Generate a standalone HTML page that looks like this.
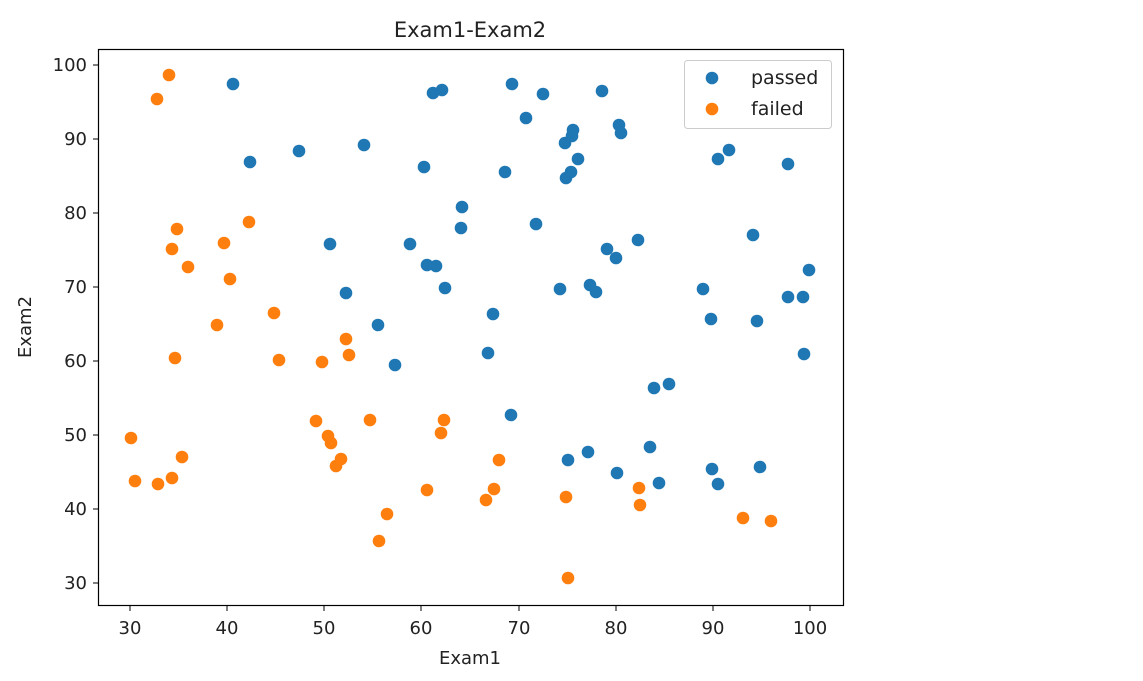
<!DOCTYPE html>
<html><head><style>body{margin:0;background:#fff}svg{display:block;font-family:"DejaVu Sans","Liberation Sans",sans-serif}</style></head>
<body>
<svg width="1143" height="681" viewBox="0 0 1143 681">
<rect width="1143" height="681" fill="#fff"/>
<text x="470" y="37" font-size="21" text-anchor="middle" fill="#222">Exam1-Exam2</text>
<g fill="#1f77b4" id="b"></g>
<g fill="#ff7f0e" id="o"></g>
<rect x="98.5" y="49.5" width="745" height="556" fill="none" stroke="#000" stroke-width="1.2"/>
<g stroke="#000" stroke-width="1">
<line x1="130" y1="606" x2="130" y2="611"/><line x1="227" y1="606" x2="227" y2="611"/><line x1="324" y1="606" x2="324" y2="611"/><line x1="421" y1="606" x2="421" y2="611"/><line x1="519" y1="606" x2="519" y2="611"/><line x1="616" y1="606" x2="616" y2="611"/><line x1="713" y1="606" x2="713" y2="611"/><line x1="810" y1="606" x2="810" y2="611"/>
<line x1="93" y1="65" x2="98" y2="65"/><line x1="93" y1="139" x2="98" y2="139"/><line x1="93" y1="213" x2="98" y2="213"/><line x1="93" y1="287" x2="98" y2="287"/><line x1="93" y1="361" x2="98" y2="361"/><line x1="93" y1="435" x2="98" y2="435"/><line x1="93" y1="509" x2="98" y2="509"/><line x1="93" y1="583" x2="98" y2="583"/>
</g>
<g font-size="18" fill="#222" text-anchor="middle">
<text x="130" y="634">30</text><text x="227" y="634">40</text><text x="324" y="634">50</text><text x="421" y="634">60</text><text x="519" y="634">70</text><text x="616" y="634">80</text><text x="713" y="634">90</text><text x="810" y="634">100</text>
<text x="470" y="664">Exam1</text>
</g>
<g font-size="18" fill="#222" text-anchor="end">
<text x="87" y="71">100</text><text x="87" y="145">90</text><text x="87" y="219">80</text><text x="87" y="293">70</text><text x="87" y="367">60</text><text x="87" y="441">50</text><text x="87" y="515">40</text><text x="87" y="589">30</text>
</g>
<text transform="translate(31,327) rotate(-90)" font-size="18" fill="#222" text-anchor="middle">Exam2</text>
<rect x="684.5" y="60.5" width="147" height="68" rx="3" fill="#fff" fill-opacity="0.8" stroke="#ccc"/>
<circle cx="712" cy="78" r="6.3" fill="#1f77b4"/><circle cx="712" cy="109" r="6.3" fill="#ff7f0e"/>
<text x="751" y="84" font-size="19" fill="#222">passed</text><text x="751" y="115" font-size="19" fill="#222">failed</text>
</svg>
<script>
var B=[233,84,250,162,299,151,364,145,330,244,346,293,378,325,395,365,410,244,424,167,427,265,436,266,445,288,433,93,442,90,462,207,461,228,493,314,488,353,505,172,512,84,526,118,536,224,543,94,511,415,560,289,565,143,566,178,572,136,571,172,578,159,573,130,602,91,590,285,596,292,607,249,616,258,619,125,621,133,638,240,568,460,588,452,617,473,650,447,654,388,669,384,659,483,703,289,711,319,712,469,718,484,718,159,729,150,753,235,757,321,760,467,788,164,788,297,803,297,809,270,804,354];
var O=[169,75,157,99,249,222,177,229,172,249,224,243,188,267,230,279,217,325,274,313,175,358,279,360,322,362,346,339,349,355,316,421,328,436,331,443,341,459,336,466,370,420,444,420,441,433,499,460,131,438,135,481,158,484,172,478,182,457,379,541,387,514,427,490,486,500,494,489,566,497,568,578,639,488,640,505,743,518,771,521];
function d(a,id){var g=document.getElementById(id),s='';for(var i=0;i<a.length;i+=2)s+='<circle cx="'+a[i]+'" cy="'+a[i+1]+'" r="6.3"/>';g.innerHTML=s;}
d(B,'b');d(O,'o');
</script>
</body></html>
